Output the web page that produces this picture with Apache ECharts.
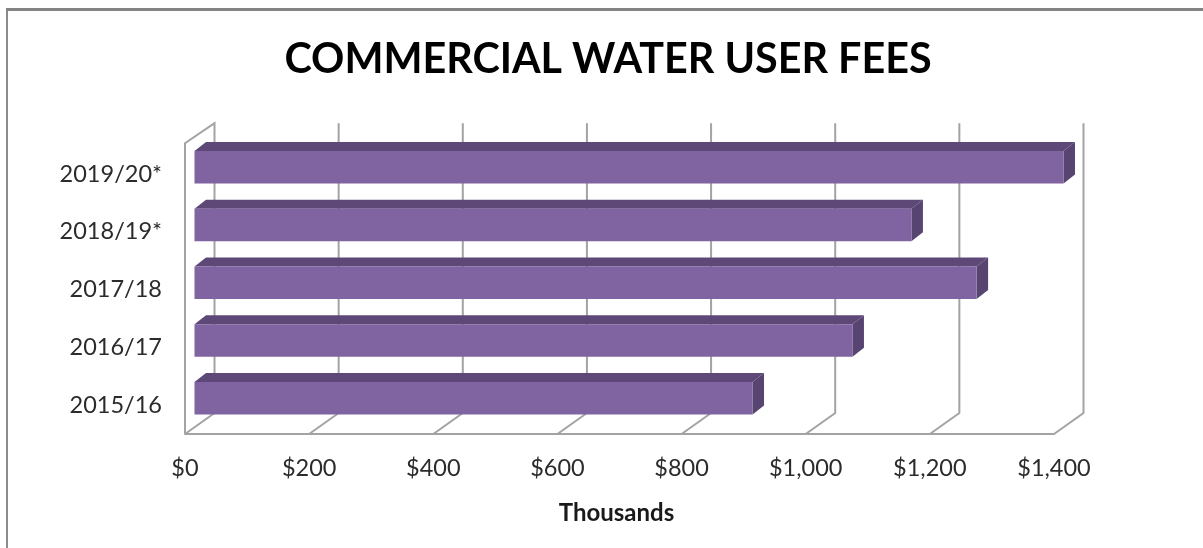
<!DOCTYPE html>
<html>
<head>
<meta charset="utf-8">
<title>Commercial Water User Fees</title>
<style>html,body{margin:0;padding:0;background:#fff}#chart{width:1203px;height:548px}</style>
<script src="https://cdn.jsdelivr.net/npm/echarts@6/dist/echarts.min.js"></script>
</head>
<body>
<div id="chart"></div>
<script>
// Fiscal years, bottom row first
const categories = ['2015/16', '2016/17', '2017/18', '2018/19*', '2019/20*'];
// User fees in thousands of dollars
const fees = [899, 1060, 1260, 1155, 1400];
const axisTicks = [0, 200, 400, 600, 800, 1000, 1200, 1400];

// Pseudo-3D projection offsets, in pixels
const WALL_DX = 29.5, WALL_DY = -21;
const BAR_DX = 9.5, BAR_DY = -7;
const EXTRUDE_DX = 11.5, EXTRUDE_DY = -9;
const BAR_HEIGHT = 32.5;

const LINE = '#a3a3a3';
const FRONT = '#8063a1', TOP = '#5e4878', SIDE = '#574470';

// Floor diagonal plus back-wall upright for each value tick
function renderWall(params, api) {
  const v = api.value(0);
  const cs = params.coordSys;
  const bottom = cs.y + cs.height;
  const x = api.coord([v, 0])[0];
  const style = { stroke: LINE, lineWidth: 2, fill: null };
  const points = [[x, bottom], [x + WALL_DX, bottom + WALL_DY], [x + WALL_DX, cs.y + WALL_DY - 1]];
  if (v === 0) {
    // Left wall: front upright and its top edge
    points.push([x, cs.y - 2], [x, bottom]);
  }
  return { type: 'polyline', shape: { points }, style };
}

// Bar as front face, top face and end face
function renderBar(params, api) {
  const start = api.coord([0, api.value(1)]);
  const end = api.coord([api.value(0), api.value(1)]);
  const x0 = start[0] + BAR_DX;
  const x1 = end[0] + BAR_DX;
  const yMid = start[1] + BAR_DY;
  const y0 = yMid - BAR_HEIGHT / 2;
  const y1 = yMid + BAR_HEIGHT / 2;
  return {
    type: 'group',
    children: [
      { type: 'polygon', shape: { points: [[x0, y0], [x0 + EXTRUDE_DX, y0 + EXTRUDE_DY], [x1 + EXTRUDE_DX, y0 + EXTRUDE_DY], [x1, y0]] }, style: { fill: TOP } },
      { type: 'polygon', shape: { points: [[x1, y0], [x1 + EXTRUDE_DX, y0 + EXTRUDE_DY], [x1 + EXTRUDE_DX, y1 + EXTRUDE_DY], [x1, y1]] }, style: { fill: SIDE } },
      { type: 'rect', shape: { x: x0, y: y0, width: x1 - x0, height: y1 - y0 }, style: { fill: FRONT } }
    ]
  };
}

const chart = echarts.init(document.getElementById('chart'), null, { renderer: 'canvas' });
chart.setOption({
  animation: false,
  backgroundColor: '#ffffff',
  textStyle: { fontFamily: 'Lato' },
  title: {
    text: 'COMMERCIAL WATER USER FEES',
    left: 603, top: 34, textAlign: 'center',
    textStyle: { fontFamily: 'Lato', fontSize: 41.3, fontWeight: 'bold', color: '#000' }
  },
  grid: { left: 185, top: 145.25, width: 869, height: 288.75 },
  xAxis: {
    type: 'value', min: 0, max: 1400, interval: 200,
    name: 'Thousands', nameLocation: 'middle', nameGap: 67,
    nameTextStyle: { fontFamily: 'Lato', fontWeight: 'bold', fontSize: 24, color: '#1a1a1a', padding: [0, 6, 0, 0] },
    axisLine: { show: true, onZero: false, lineStyle: { color: LINE, width: 2 } },
    axisTick: { show: false },
    splitLine: { show: false },
    axisLabel: { margin: 22, fontSize: 23.5, color: '#2b2b2b', formatter: v => '$' + v.toLocaleString('en-US') }
  },
  yAxis: {
    type: 'category', data: categories,
    axisLine: { show: false }, axisTick: { show: false },
    axisLabel: { margin: 23, fontSize: 23.5, color: '#2b2b2b' }
  },
  series: [
    { type: 'custom', coordinateSystem: 'cartesian2d', clip: false, silent: true, z: 1,
      encode: { x: 0 }, data: axisTicks.map(v => [v]), renderItem: renderWall },
    { type: 'custom', coordinateSystem: 'cartesian2d', clip: false, z: 2,
      encode: { x: 0, y: 1 }, data: fees.map((v, i) => [v, i]), renderItem: renderBar }
  ],
  graphic: [
    // Frame along the top and left edges
    { type: 'line', silent: true, shape: { x1: 7, y1: 8, x2: 7, y2: 548 }, style: { stroke: '#8c8c8c', lineWidth: 2 } },
    { type: 'line', silent: true, shape: { x1: 6, y1: 9.5, x2: 1203, y2: 9.5 }, style: { stroke: '#848484', lineWidth: 3 } }
  ]
});
</script>
</body>
</html>
